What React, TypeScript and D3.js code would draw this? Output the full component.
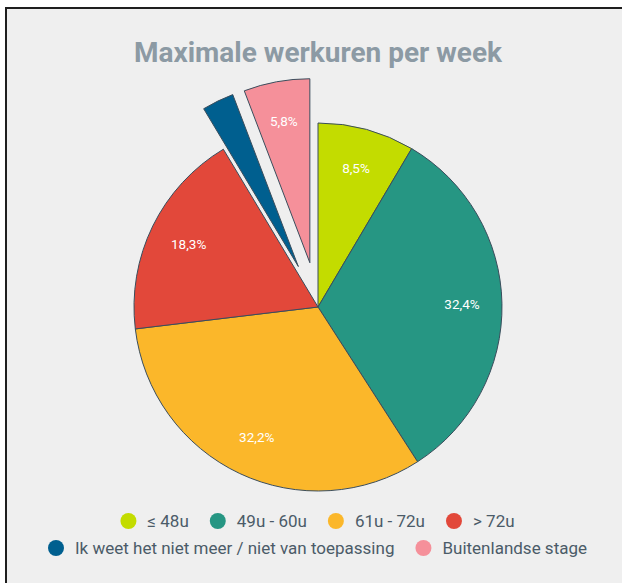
import React, { useEffect, useRef } from "react";
import * as d3 from "d3";

const categories = [
  "≤ 48u",
  "49u - 60u",
  "61u - 72u",
  "> 72u",
  "Ik weet het niet meer / niet van toepassing",
  "Buitenlandse stage",
];
const values = [8.5, 32.4, 32.2, 18.3, 2.8, 5.8];
const labels = ["8,5%", "32,4%", "32,2%", "18,3%", "", "5,8%"];
const sliced = [false, false, false, false, true, true];
const colors = ["#c3dc00", "#269683", "#fbb72a", "#e2483a", "#005f8f", "#f5909a"];
const legendRows = [[0, 1, 2, 3], [4, 5]];

const W = 622;
const H = 583;
const CX = 318;
const CY = 307;
const R = 184;
const OFFSET = 45;

export default function App() {
  const ref = useRef<SVGSVGElement>(null);

  useEffect(() => {
    const svg = d3.select(ref.current);
    svg.selectAll("*").remove();

    svg.append("rect").attr("x", 0).attr("y", 0).attr("width", W).attr("height", H).attr("fill", "#ffffff");
    svg
      .append("rect")
      .attr("x", 6)
      .attr("y", 8)
      .attr("width", W + 20)
      .attr("height", H + 20)
      .attr("fill", "#efefef")
      .attr("stroke", "#1e1e1e")
      .attr("stroke-width", 2);

    svg
      .append("text")
      .attr("x", CX)
      .attr("y", 62)
      .attr("text-anchor", "middle")
      .attr("font-family", "Roboto")
      .attr("font-weight", "bold")
      .attr("font-size", 28)
      .attr("fill", "#8c9aa4")
      .text("Maximale werkuren per week");

    const data = values.map((v, i) => ({ v, i }));
    const pie = d3
      .pie<{ v: number; i: number }>()
      .value((d) => d.v)
      .sort(null);
    const arcs = pie(data);
    const arc = d3.arc<d3.PieArcDatum<{ v: number; i: number }>>().innerRadius(0).outerRadius(R);

    const g = svg.append("g").attr("transform", `translate(${CX},${CY})`);
    arcs.forEach((a) => {
      const mid = (a.startAngle + a.endAngle) / 2;
      const off = sliced[a.data.i] ? OFFSET : 0;
      const dx = Math.sin(mid) * off;
      const dy = -Math.cos(mid) * off;
      const sg = g.append("g").attr("transform", `translate(${dx},${dy})`);
      sg.append("path")
        .attr("d", arc(a) as string)
        .attr("fill", colors[a.data.i])
        .attr("stroke", "#3a4d5c")
        .attr("stroke-width", 1)
        .attr("stroke-linejoin", "round");
      const lr = R - 40;
      if (labels[a.data.i]) {
        sg.append("text")
          .attr("x", Math.sin(mid) * lr)
          .attr("y", -Math.cos(mid) * lr)
          .attr("text-anchor", "middle")
          .attr("dominant-baseline", "central")
          .attr("font-family", "Roboto")
          .attr("font-size", 13.5)
          .attr("fill", "#ffffff")
          .text(labels[a.data.i]);
      }
    });

    const rowY = [521, 548];
    const rowCenter = [317.5, 317.5];
    const gap = 21;
    legendRows.forEach((row, ri) => {
      const lg = svg.append("g");
      const items = row.map((idx) => {
        const ig = lg.append("g");
        ig.append("circle").attr("cx", 8).attr("cy", 0).attr("r", 8).attr("fill", colors[idx]);
        const t = ig
          .append("text")
          .attr("x", 27)
          .attr("y", 0)
          .attr("dominant-baseline", "central")
          .attr("font-family", "Roboto")
          .attr("font-size", 17)
          .attr("fill", "#4b5b68")
          .text(categories[idx]);
        const w = 27 + (t.node() as SVGTextElement).getComputedTextLength();
        return { ig, w };
      });
      const total = items.reduce((s, it) => s + it.w, 0) + gap * (items.length - 1);
      let x = rowCenter[ri] - total / 2;
      items.forEach((it) => {
        it.ig.attr("transform", `translate(${x},${rowY[ri]})`);
        x += it.w + gap;
      });
    });
  }, []);

  return (
    <svg
      ref={ref}
      width={W}
      height={H}
      style={{ position: "absolute", left: 0, top: 0, display: "block" }}
    />
  );
}
